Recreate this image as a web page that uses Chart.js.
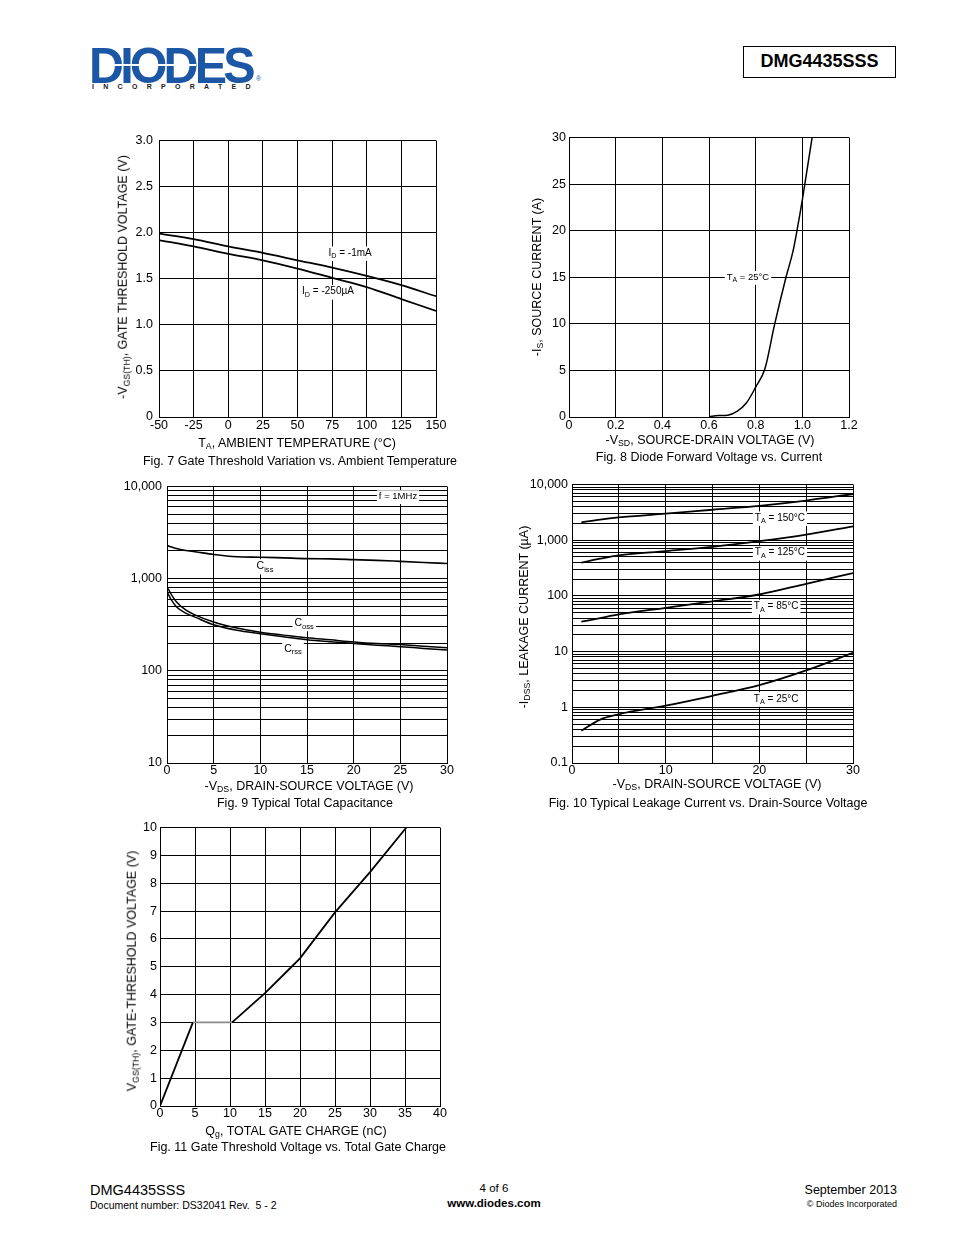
<!DOCTYPE html>
<html lang="en">
<head>
<meta charset="UTF-8">
<title>DMG4435SSS - Typical Characteristics</title>
<script src="https://cdn.jsdelivr.net/npm/chart.js"></script>
<style>
  body { margin: 0; background: #fff; font-family: "Liberation Sans", Arial, Helvetica, sans-serif; color: #000; }
  #page { position: relative; width: 954px; height: 1235px; overflow: hidden; background: #fff; }
  canvas { position: absolute; }
  .t { position: absolute; white-space: nowrap; transform: translate(-50%, -50%); font-size: 12.5px; line-height: 1; }
  .rot { transform: translate(-50%, -50%) rotate(-90deg); }
  .l { position: absolute; white-space: nowrap; line-height: 1; }
  sub { font-size: 70%; vertical-align: -0.3em; line-height: 0; }
  #logo { position: absolute; left: 89px; top: 41px; font-size: 50px; font-weight: bold; color: #1b57a5;
          letter-spacing: -4px; line-height: 1; transform: scaleX(0.97); transform-origin: left top; }
  #stripe { position: absolute; left: 104px; top: 64px; width: 92px; height: 2px; background: #fff; }
  #inc { position: absolute; left: 92px; top: 83px; font-size: 7px; font-weight: bold; letter-spacing: 9.3px; color: #222; }
  #reg { position: absolute; left: 256px; top: 75px; font-size: 7px; color: #1b57a5; }
  #partbox { position: absolute; left: 743px; top: 46px; width: 153px; height: 32px; box-sizing: border-box;
             border: 1.5px solid #000; font-weight: bold; font-size: 18px; text-align: center; line-height: 29px; }
</style>
</head>
<body>
<div id="page">
  <!-- header -->
  <div id="logo">DIODES</div>
  <div id="stripe"></div>
  <div id="reg">®</div>
  <div id="inc">INCORPORATED</div>
  <div id="partbox">DMG4435SSS</div>

  <canvas id="fig7"></canvas>
  <canvas id="fig8"></canvas>
  <canvas id="fig9"></canvas>
  <canvas id="fig10"></canvas>
  <canvas id="fig11"></canvas>

  <!-- Fig 7 texts -->
  <div class="t rot" style="left:123px;top:277px">-V<sub>GS(TH)</sub>, GATE THRESHOLD VOLTAGE (V)</div>
  <div class="t" style="left:297px;top:443px">T<sub>A</sub>, AMBIENT TEMPERATURE (°C)</div>
  <div class="t" style="left:300px;top:461px">Fig. 7 Gate Threshold Variation vs. Ambient Temperature</div>

  <!-- Fig 8 texts -->
  <div class="t rot" style="left:537px;top:277px">-I<sub>S</sub>, SOURCE CURRENT (A)</div>
  <div class="t" style="left:710px;top:440px">-V<sub>SD</sub>, SOURCE-DRAIN VOLTAGE (V)</div>
  <div class="t" style="left:709px;top:457px">Fig. 8 Diode Forward Voltage vs. Current</div>

  <!-- Fig 9 texts -->
  <div class="t" style="left:309px;top:786px">-V<sub>DS</sub>, DRAIN-SOURCE VOLTAGE (V)</div>
  <div class="t" style="left:305px;top:803px">Fig. 9 Typical Total Capacitance</div>

  <!-- Fig 10 texts -->
  <div class="t rot" style="left:524px;top:617px">-I<sub>DSS</sub>, LEAKAGE CURRENT (µA)</div>
  <div class="t" style="left:717px;top:784px">-V<sub>DS</sub>, DRAIN-SOURCE VOLTAGE (V)</div>
  <div class="t" style="left:708px;top:803px">Fig. 10 Typical Leakage Current vs. Drain-Source Voltage</div>

  <!-- Fig 11 texts -->
  <div class="t rot" style="left:132px;top:971px">V<sub>GS(TH)</sub>, GATE-THRESHOLD VOLTAGE (V)</div>
  <div class="t" style="left:296px;top:1131px">Q<sub>g</sub>, TOTAL GATE CHARGE (nC)</div>
  <div class="t" style="left:298px;top:1147px">Fig. 11 Gate Threshold Voltage vs. Total Gate Charge</div>

  <!-- footer -->
  <div class="l" style="left:90px;top:1183px;font-size:14.5px">DMG4435SSS</div>
  <div class="l" style="left:90px;top:1200px;font-size:10.5px">Document number: DS32041 Rev.&nbsp; 5 - 2</div>
  <div class="t" style="left:494px;top:1189px;font-size:11.5px">4 of 6</div>
  <div class="t" style="left:494px;top:1204px;font-size:11.5px;font-weight:bold">www.diodes.com</div>
  <div class="l" style="right:57px;top:1184px;font-size:12.5px">September 2013</div>
  <div class="l" style="right:57px;top:1200px;font-size:9px">© Diodes Incorporated</div>
</div>

<script>
// ---- Fig. 7: gate threshold vs ambient temperature
const tempC    = [-50, -25, 0, 25, 50, 75, 100, 125, 150];
const vth1mA   = [1.99, 1.93, 1.85, 1.78, 1.70, 1.62, 1.53, 1.43, 1.31];
const vth250uA = [1.92, 1.85, 1.77, 1.70, 1.61, 1.51, 1.41, 1.28, 1.15];

// ---- Fig. 8: diode forward voltage vs current
const vsd  = [0.6, 0.64, 0.68, 0.72, 0.76, 0.8, 0.84, 0.88, 0.93, 0.96, 0.977, 1.0, 1.02, 1.042];
const isrc = [0.05, 0.15, 0.2, 0.6, 1.5, 3.2, 5.2, 9.8, 15, 17.8, 20, 23.3, 26.5, 30];

// ---- Fig. 9: capacitance vs VDS
const vdsCap = [0, 0.5, 1, 2, 3, 5, 7.5, 10, 12.5, 15, 17.5, 20, 22.5, 25, 27.5, 30];
const ciss   = [2300, 2200, 2120, 2020, 1960, 1830, 1730, 1710, 1680, 1650, 1640, 1610, 1580, 1540, 1500, 1460];
const coss   = [815, 663, 563, 458, 405, 338, 291, 262, 244, 228, 217, 206, 198, 193, 185, 178];
const crss   = [720, 580, 497, 422, 383, 316, 275, 253, 234, 218, 207, 198, 190, 183, 175, 168];
const capTickVals   = [10, 100, 1000, 10000];
const capTickLabels = ['10', '100', '1,000', '10,000'];

// ---- Fig. 10: leakage current vs VDS
const vdsLeak = [1, 3, 5, 10, 15, 20, 25, 30];
const leak150 = [2090, 2350, 2570, 2990, 3520, 4140, 5140, 6760];
const leak125 = [395, 465, 533, 637, 760, 960, 1260, 1775];
const leak85  = [34.4, 40, 46.5, 61, 80, 106, 165, 257];
const leak25  = [0.38, 0.6, 0.75, 1.07, 1.61, 2.5, 4.6, 9.5];
const leakTickVals   = [0.1, 1, 10, 100, 1000, 10000];
const leakTickLabels = ['0.1', '1', '10', '100', '1,000', '10,000'];

// ---- Fig. 11: gate voltage vs total gate charge
const qg  = [0, 4.7, 10.3, 15, 18.8, 20, 25, 30, 35.2];
const vgs = [0, 3, 3, 4.05, 5, 5.3, 6.95, 8.4, 10];

const FONT = '"Liberation Sans", Arial, Helvetica, sans-serif';
Chart.defaults.font.family = FONT;
Chart.defaults.font.size = 12.5;
Chart.defaults.color = '#000';

// margins around the plot box inside each canvas
const M = { l: 60, t: 10, r: 18, b: 22 };

// labels with subscripts and white background, drawn over the grid
const richLabels = {
  id: 'richLabels',
  beforeDatasetsDraw(chart, args, opts) {
    const ctx = chart.ctx;
    const sx = chart.scales.x, sy = chart.scales.y;
    (opts.items || []).forEach(it => {
      const px = sx.getPixelForValue(it.x), py = sy.getPixelForValue(it.y);
      const size = it.size || 10, subSize = size * 0.72;
      let w = 0;
      it.parts.forEach(p => {
        ctx.font = (p.sub ? subSize : size) + 'px ' + FONT;
        p.w = ctx.measureText(p.t).width;
        w += p.w;
      });
      const left = px - w / 2;
      ctx.save();
      ctx.fillStyle = '#fff';
      ctx.fillRect(left - 2, py - size * 0.65, w + 4, size * 1.45);
      ctx.fillStyle = '#000';
      ctx.textBaseline = 'middle';
      let cx = left;
      it.parts.forEach(p => {
        ctx.font = (p.sub ? subSize : size) + 'px ' + FONT;
        ctx.fillText(p.t, cx, p.sub ? py + size * 0.35 : py);
        cx += p.w;
      });
      ctx.restore();
    });
  }
};

function gridOpts() {
  return { color: '#000', lineWidth: 1, drawTicks: false };
}

function linScale(min, max, step, fmt, pad, isX) {
  return {
    type: 'linear', min: min, max: max,
    afterFit: s => { if (isX) s.height = M.b; else s.width = M.l; },
    grid: gridOpts(),
    border: { color: '#000', width: 1 },
    ticks: { stepSize: step, autoSkip: false, maxRotation: 0, padding: pad, callback: fmt }
  };
}

function logScale(vals, labels, pad) {
  const gridVals = [];
  for (let i = 0; i < vals.length - 1; i++) {
    for (let k = 1; k < 10; k++) gridVals.push(vals[i] * k);
  }
  gridVals.push(vals[vals.length - 1]);
  return {
    type: 'logarithmic', min: vals[0], max: vals[vals.length - 1],
    afterFit: s => { s.width = M.l; },
    afterBuildTicks: s => { s.ticks = gridVals.map(v => ({ value: v })); },
    grid: gridOpts(),
    border: { color: '#000', width: 1 },
    ticks: {
      autoSkip: false, padding: pad,
      callback: v => {
        const i = vals.findIndex(d => Math.abs(v - d) / d < 1e-6);
        return i >= 0 ? labels[i] : '';
      }
    }
  };
}

function series(xs, ys, extra) {
  return Object.assign({
    data: xs.map((x, i) => ({ x: x, y: ys[i] })),
    borderColor: '#000', borderWidth: 1.8, pointRadius: 0, fill: false,
    cubicInterpolationMode: 'monotone'
  }, extra || {});
}

function plotChart(id, rect, xScale, yScale, datasets, labels) {
  const cv = document.getElementById(id);
  const w = rect.R - rect.L + M.l + M.r;
  const h = rect.B - rect.T + M.t + M.b;
  cv.width = w; cv.height = h;
  cv.style.width = w + 'px'; cv.style.height = h + 'px';
  cv.style.left = (rect.L - M.l) + 'px';
  cv.style.top = (rect.T - M.t) + 'px';
  return new Chart(cv, {
    type: 'line',
    data: { datasets: datasets },
    options: {
      responsive: false,
      animation: false,
      layout: { padding: { top: M.t, right: M.r, left: 0, bottom: 0 } },
      plugins: { legend: { display: false }, tooltip: { enabled: false }, richLabels: { items: labels } },
      scales: { x: xScale, y: yScale }
    },
    plugins: [richLabels]
  });
}

const fmt1 = v => (Math.abs(v) < 1e-9 ? '0' : v.toFixed(1));
const fmtInt = v => String(Math.round(v));

// Fig. 7
plotChart('fig7', { L: 159, T: 137, R: 436, B: 417 },
  linScale(-50, 150, 25, fmtInt, 1, true),
  linScale(0, 3, 0.5, fmt1, 6, false),
  [series(tempC, vth1mA), series(tempC, vth250uA)],
  [
    { x: 88, y: 1.78, parts: [{ t: 'I' }, { t: 'D', sub: true }, { t: ' = -1mA' }] },
    { x: 72, y: 1.36, parts: [{ t: 'I' }, { t: 'D', sub: true }, { t: ' = -250µA' }] }
  ]);

// Fig. 8
plotChart('fig8', { L: 569, T: 137, R: 849, B: 417 },
  linScale(0, 1.2, 0.2, fmt1, 1, true),
  linScale(0, 30, 5, fmtInt, 3, false),
  [series(vsd, isrc, { borderWidth: 1.5 })],
  [
    { x: 0.767, y: 15, size: 9.5, parts: [{ t: 'T' }, { t: 'A', sub: true }, { t: ' = 25°C' }] }
  ]);

// Fig. 9
plotChart('fig9', { L: 167, T: 484, R: 447, B: 763 },
  linScale(0, 30, 5, fmtInt, 0, true),
  logScale(capTickVals, capTickLabels, 5),
  [series(vdsCap, ciss, { borderWidth: 1.6 }), series(vdsCap, coss, { borderWidth: 1.5 }), series(vdsCap, crss, { borderWidth: 1.5 })],
  [
    { x: 24.75, y: 7800, size: 9.5, parts: [{ t: 'f = 1MHz' }] },
    { x: 10.5, y: 1370, size: 10.5, parts: [{ t: 'C' }, { t: 'iss', sub: true }] },
    { x: 14.7, y: 332, size: 10.5, parts: [{ t: 'C' }, { t: 'oss', sub: true }] },
    { x: 13.5, y: 174, size: 10.5, parts: [{ t: 'C' }, { t: 'rss', sub: true }] }
  ]);

// Fig. 10
plotChart('fig10', { L: 572, T: 483, R: 853, B: 763 },
  linScale(0, 30, 5, v => (Math.round(v) % 10 === 0 ? fmtInt(v) : ''), 0, true),
  logScale(leakTickVals, leakTickLabels, 4),
  [series(vdsLeak, leak150), series(vdsLeak, leak125), series(vdsLeak, leak85), series(vdsLeak, leak25)],
  [
    { x: 22.2, y: 2510, parts: [{ t: 'T' }, { t: 'A', sub: true }, { t: ' = 150°C' }] },
    { x: 22.2, y: 598, parts: [{ t: 'T' }, { t: 'A', sub: true }, { t: ' = 125°C' }] },
    { x: 21.8, y: 65, parts: [{ t: 'T' }, { t: 'A', sub: true }, { t: ' = 85°C' }] },
    { x: 21.8, y: 1.42, parts: [{ t: 'T' }, { t: 'A', sub: true }, { t: ' = 25°C' }] }
  ]);

// Fig. 11
plotChart('fig11', { L: 160, T: 827, R: 440, B: 1106 },
  linScale(0, 40, 5, fmtInt, 0, true),
  linScale(0, 10, 1, fmtInt, 3, false),
  [series(qg, vgs, {
    cubicInterpolationMode: 'default', tension: 0,
    segment: { borderColor: c => (c.p0.parsed.y === 3 && c.p1.parsed.y === 3 ? '#8a8a8a' : '#000') }
  })],
  []);
</script>
</body>
</html>
